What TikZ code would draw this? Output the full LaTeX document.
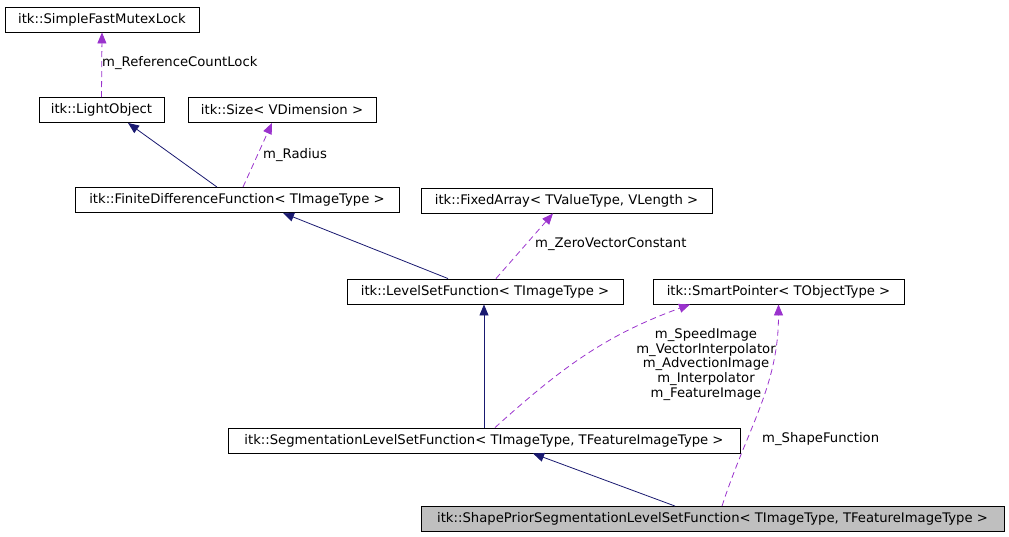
\documentclass[tikz,border=0pt]{standalone}
\usepackage{fontspec}
\setmainfont{DejaVu Sans}
\usepackage{tikz}
\usetikzlibrary{arrows.meta, positioning, calc}
\definecolor{inhcol}{RGB}{25, 25, 112}
\definecolor{usecol}{RGB}{154, 50, 205}
\definecolor{curfill}{RGB}{191, 191, 191}

\begin{document}
\begin{tikzpicture}[x=1pt, y=-1pt, font=\fontsize{13.2}{14.7}\selectfont,
        cls/.style={rectangle, draw=black, line width=0.9pt, fill=white, inner sep=0pt,
                    minimum height=25pt, align=center},
        cur/.style={cls, fill=curfill},
        inh/.style={-{Triangle[length=11pt, width=9pt]}, line width=0.8pt, inhcol},
        use/.style={-{Triangle[length=11pt, width=9pt]}, line width=0.8pt, usecol,
                    dash pattern=on 6pt off 4pt},
        lbl/.style={inner sep=0pt, align=center}
    ]
        \useasboundingbox (0,0) rectangle (1009,536);

        \node[cls, minimum width=194pt] (mutex) at (102,19.5)   {itk::SimpleFastMutexLock};
        \node[cls, minimum width=125pt] (light) at (101.5,110)  {itk::LightObject};
        \node[cls, minimum width=188pt] (size)  at (282,110)    {itk::Size< VDimension >};
        \node[cls, minimum width=324pt] (fdf)   at (237,200)    {itk::FiniteDifferenceFunction< TImageType >};
        \node[cls, minimum width=291pt] (fixed) at (566.5,200.5) {itk::FixedArray< TValueType, VLength >};
        \node[cls, minimum width=276pt] (lsf)   at (485,291.5)  {itk::LevelSetFunction< TImageType >};
        \node[cls, minimum width=251pt] (smart) at (778.5,291.5) {itk::SmartPointer< TObjectType >};
        \node[cls, minimum width=512pt] (seg)   at (484,440.5)  {itk::SegmentationLevelSetFunction< TImageType, TFeatureImageType >};
        \node[cur, minimum width=583pt] (shape) at (712.5,519)  {itk::ShapePriorSegmentationLevelSetFunction< TImageType, TFeatureImageType >};

        % inheritance
        \draw[inh] ([xshift=-20pt]fdf.north) -- ([xshift=26.5pt]light.south);
        \draw[inh] ([xshift=-37pt]lsf.north) -- ([xshift=46pt]fdf.south);
        \draw[inh] (seg.north) -- (seg.north |- lsf.south);
        \draw[inh] ([xshift=-37.5pt]shape.north) -- ([xshift=49pt]seg.south);

        % members
        \draw[use] (light.north) -- (mutex.south);
        \draw[use] ([xshift=6pt]fdf.north) -- ([xshift=-10pt]size.south);
        \draw[use] ([xshift=11pt]lsf.north) -- ([xshift=-13.5pt]fixed.south);
        \draw[use] ([xshift=11pt]seg.north) to[out=42, in=200] ([xshift=-88.5pt]smart.south);
        \draw[use] ([xshift=9.5pt]shape.north) to[out=72, in=-90] (smart.south);

        \node[lbl, anchor=west] (l1) at (102,63)  {m\_ReferenceCountLock};
        \node[lbl, anchor=west] (l2) at (263,155) {m\_Radius};
        \node[lbl, anchor=west] (l3) at (535,244) {m\_ZeroVectorConstant};
        \node[lbl] (l4) at (706,364.5) {m\_SpeedImage\\m\_VectorInterpolator\\m\_AdvectionImage\\m\_Interpolator\\m\_FeatureImage};
        \node[lbl, anchor=west] (l5) at (762,439) {m\_ShapeFunction};
    \end{tikzpicture}
\end{document}
